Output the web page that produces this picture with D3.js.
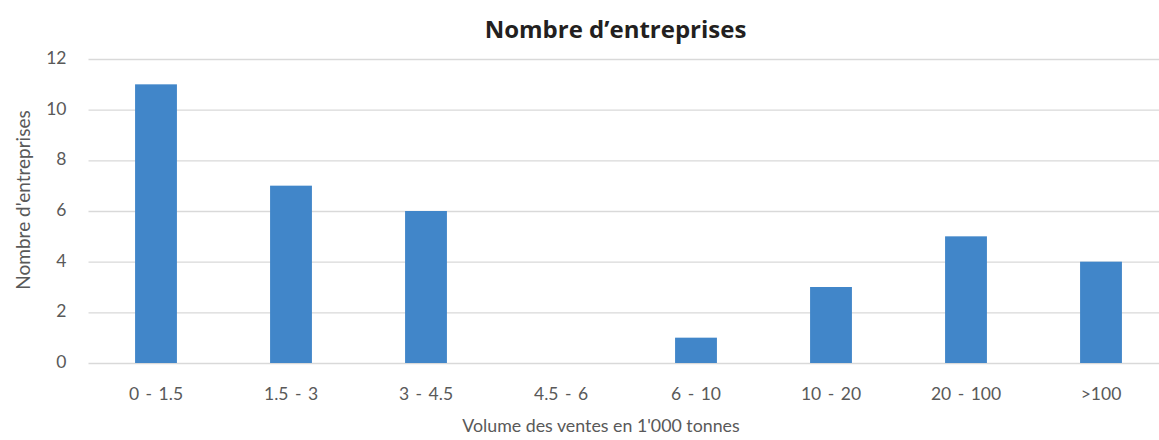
<!DOCTYPE html>
<html>
<head>
<meta charset="utf-8">
<script src="https://cdn.jsdelivr.net/npm/d3@7"></script>
<style>
  html, body { margin: 0; padding: 0; background: #ffffff; }
  svg { display: block; }
</style>
</head>
<body>
<svg id="chart" width="1159" height="440"></svg>
<script>
// Number of companies by sales volume band (thousand tonnes)
const categories = ["0 - 1.5", "1.5 - 3", "3 - 4.5", "4.5 - 6", "6 - 10", "10 - 20", "20 - 100", ">100"];
const companyCounts = [11, 7, 6, 0, 1, 3, 5, 4];
const yTicks = [0, 2, 4, 6, 8, 10, 12];

const chartTitle = "Nombre d\u2019entreprises";
const yTitle = "Nombre d'entreprises";
const xTitle = "Volume des ventes en 1'000 tonnes";

const svg = d3.select("#chart");
const W = 1159, H = 440;
const plot = { left: 88.5, right: 1168.5, top: 59, bottom: 363 };

const textColor = "#595959";
const gridColor = "#d9d9d9";
const barColor = "#4186c9";
const font = "Lato, 'Open Sans', sans-serif";

const x = d3.scaleBand()
  .domain(categories)
  .range([plot.left, plot.right])
  .paddingInner(0.69)
  .paddingOuter(0.345);

const y = d3.scaleLinear()
  .domain([0, 12])
  .range([plot.bottom, plot.top]);

// Horizontal gridlines with value labels
const yAxis = d3.axisLeft(y)
  .tickValues(yTicks)
  .tickSize(-(W - plot.left))
  .tickPadding(22)
  .tickFormat(d3.format("d"));

const gy = svg.append("g")
  .attr("transform", `translate(${plot.left},0)`)
  .call(yAxis);
gy.select(".domain").remove();
gy.selectAll(".tick line").attr("stroke", gridColor).attr("stroke-width", 1.3);
gy.selectAll(".tick text")
  .attr("fill", textColor)
  .attr("dy", "0.25em")
  .style("font-family", font)
  .style("font-size", "17.5px");

// Bars
svg.append("g")
  .selectAll("rect")
  .data(categories.map((c, i) => ({ c, v: companyCounts[i] })))
  .join("rect")
  .attr("x", d => x(d.c))
  .attr("width", x.bandwidth())
  .attr("y", d => y(d.v))
  .attr("height", d => y(0) - y(d.v))
  .attr("fill", barColor);

// Category axis
const xAxis = d3.axisBottom(x).tickSize(0).tickPadding(25);
const gx = svg.append("g")
  .attr("transform", `translate(0,${plot.bottom})`)
  .call(xAxis);
gx.select(".domain").remove();
gx.selectAll(".tick text")
  .attr("fill", textColor)
  .style("font-family", font)
  .style("font-size", "17.5px")
  .style("word-spacing", "2px");

// Titles
svg.append("text")
  .attr("x", 615.5)
  .attr("y", 38)
  .attr("text-anchor", "middle")
  .attr("fill", "#231f20")
  .style("font-family", "'Open Sans', sans-serif")
  .style("font-weight", "700")
  .style("font-size", "24px")
  .text(chartTitle);

svg.append("text")
  .attr("transform", "translate(30,200) rotate(-90)")
  .attr("text-anchor", "middle")
  .attr("fill", textColor)
  .style("font-family", font)
  .style("font-size", "19px")
  .text(yTitle);

svg.append("text")
  .attr("x", 601)
  .attr("y", 432)
  .attr("text-anchor", "middle")
  .attr("fill", textColor)
  .style("font-family", font)
  .style("font-size", "17.8px")
  .text(xTitle);
</script>
</body>
</html>
